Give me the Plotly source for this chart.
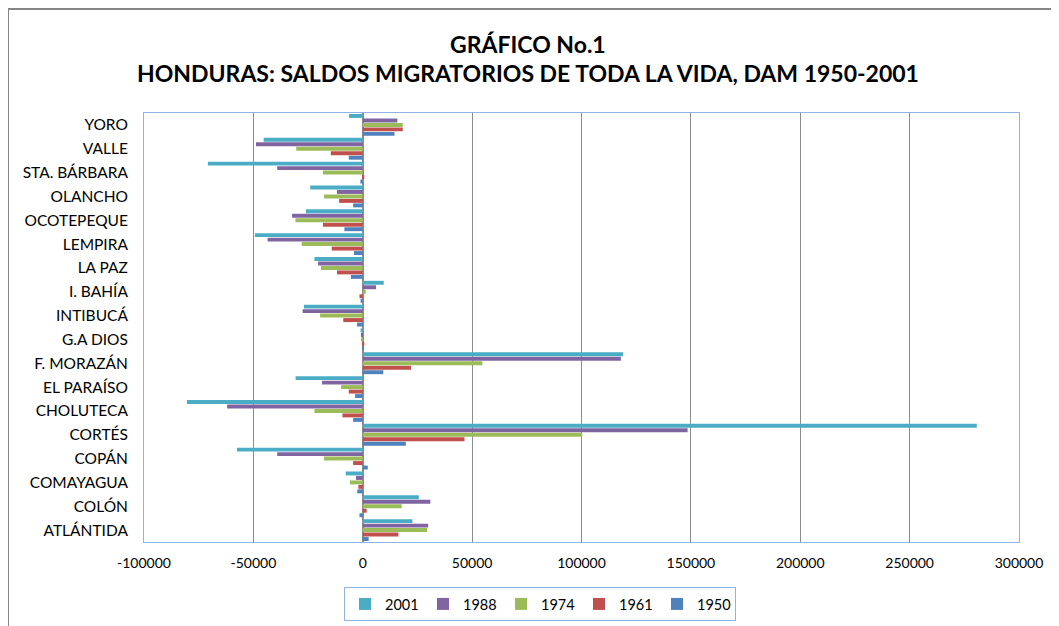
import plotly.graph_objects as go

departments = ["ATLÁNTIDA", "COLÓN", "COMAYAGUA", "COPÁN", "CORTÉS", "CHOLUTECA",
               "EL PARAÍSO", "F. MORAZÁN", "G.A DIOS", "INTIBUCÁ", "I. BAHÍA",
               "LA PAZ", "LEMPIRA", "OCOTEPEQUE", "OLANCHO", "STA. BÁRBARA",
               "VALLE", "YORO"]

saldo_1950 = [2700, -1500, -2500, 2300, 19700, -4400, -3500, 9400, 200, -2600,
              -1000, -5400, -4000, -8400, -4400, -1100, -6400, 14500]
saldo_1961 = [16300, 1800, -2000, -4400, 46500, -9300, -6400, 22100, 700, -8900,
              -1500, -11800, -14200, -18200, -10800, 700, -14600, 18300]
saldo_1974 = [29400, 17800, -5900, -17700, 100300, -22100, -9900, 54700, -600, -19500,
              1400, -19100, -27900, -30800, -17700, -18200, -30400, 18300]
saldo_1988 = [29900, 30900, -3100, -39100, 148500, -62000, -18600, 118000, -800, -27500,
              6100, -20400, -43500, -32300, -11800, -39100, -48800, 15800]
saldo_2001 = [22700, 25600, -7800, -57500, 280700, -80400, -30700, 119000, -1000, -26900,
              9600, -22100, -49300, -26000, -24000, -70800, -45300, -6300]

series = [
    ("1950", saldo_1950, "#4F81BD"),
    ("1961", saldo_1961, "#C0504D"),
    ("1974", saldo_1974, "#9BBB59"),
    ("1988", saldo_1988, "#8064A2"),
    ("2001", saldo_2001, "#4BACC6"),
]

tick_vals = [-100000, -50000, 0, 50000, 100000, 150000, 200000, 250000, 300000]
tick_text = ["-100000", "-50000", "0", "50000", "100000", "150000", "200000", "250000", "300000"]

title_line1 = "GRÁFICO No.1"
title_line2 = "HONDURAS: SALDOS MIGRATORIOS DE TODA LA VIDA, DAM 1950-2001"

FONT = "Lato"

# page body has an 8px margin: layout coords = screen - 8
W, H = 1051, 618
L, R, T, B = 136, 40, 105, 84
PW = W - L - R
PH = H - T - B


def px(sx):
    return (sx - 8 - L) / PW


def py(sy):
    return (H - B - (sy - 8)) / PH


fig = go.Figure()
for name, vals, color in series:
    fig.add_trace(go.Bar(
        y=departments, x=vals, name=name, orientation="h",
        marker=dict(color=color, line=dict(width=0)),
    ))

fig.update_layout(
    width=W, height=H,
    margin=dict(l=L, r=R, t=T, b=B, autoexpand=False),
    paper_bgcolor="white", plot_bgcolor="white",
    barmode="group", bargap=0.06, bargroupgap=0.12,
    font=dict(family=FONT, size=14, color="#000000"),
    legend=dict(
        orientation="h", traceorder="reversed",
        x=px(540), xanchor="center", y=py(587), yanchor="top",
        bordercolor="#8EB4E3", borderwidth=1,
        font=dict(family=FONT, size=14.5),
        itemwidth=30, entrywidth=33,
    ),
    xaxis=dict(
        range=[-100000, 300000], tickvals=tick_vals, ticktext=tick_text,
        showgrid=True, gridcolor="#8C8C8C", gridwidth=1,
        zeroline=True, zerolinecolor="#8C8C8C", zerolinewidth=2,
        showline=True, linecolor="#8EB4E3", linewidth=1, mirror=True,
        ticks="", ticklabelstandoff=8,
        tickfont=dict(family=FONT, size=14),
    ),
    yaxis=dict(
        categoryorder="array", categoryarray=departments,
        showgrid=False,
        showline=True, linecolor="#8EB4E3", linewidth=1, mirror=True,
        ticks="", ticklabelstandoff=12,
        tickfont=dict(family=FONT, size=15.5),
    ),
    annotations=[
        dict(text="<b>" + title_line1 + "</b>", xref="paper", yref="paper",
             x=px(528), y=py(44), xanchor="center", yanchor="middle",
             showarrow=False, font=dict(family=FONT, size=23, color="#000000")),
        dict(text="<b>" + title_line2 + "</b>", xref="paper", yref="paper",
             x=px(528), y=py(73), xanchor="center", yanchor="middle",
             showarrow=False, font=dict(family=FONT, size=23, color="#000000")),
    ],
    shapes=[
        dict(type="line", xref="paper", yref="paper",
             x0=px(8), x1=1.2, y0=py(9), y1=py(9),
             line=dict(color="#868686", width=2)),
        dict(type="line", xref="paper", yref="paper",
             x0=px(8), x1=px(8), y0=py(9), y1=-0.3,
             line=dict(color="#868686", width=2)),
    ],
)

fig.write_html("out.html")
